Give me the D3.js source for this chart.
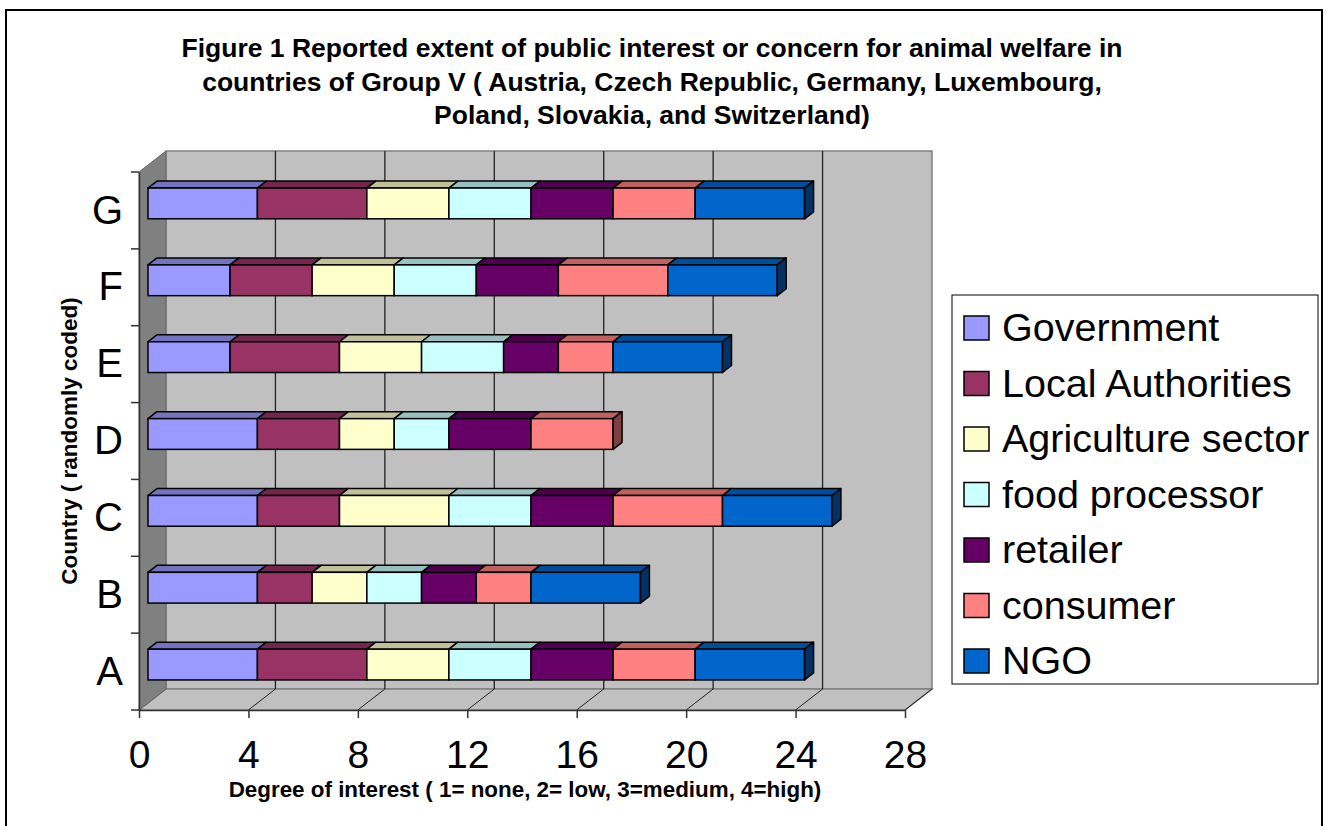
<!DOCTYPE html>
<html>
<head>
<meta charset="utf-8">
<script src="https://cdn.jsdelivr.net/npm/d3@7"></script>
<style>
  body { margin: 0; background: #fff; }
  svg { display: block; font-family: Arial, "Liberation Sans", sans-serif; }
</style>
</head>
<body>
<svg id="chart" width="1329" height="826"></svg>
<script>
// data (A..G, stacked by stakeholder)
const countries = ["A", "B", "C", "D", "E", "F", "G"];
const seriesNames = ["Government", "Local Authorities", "Agriculture sector", "food processor", "retailer", "consumer", "NGO"];
const seriesColors = ["#9999FF", "#993366", "#FFFFCC", "#CCFFFF", "#660066", "#FF8080", "#0066CC"];
const government  = [4, 4, 4, 4, 3, 3, 4];
const localAuth   = [4, 2, 3, 3, 4, 3, 4];
const agriculture = [3, 2, 4, 2, 3, 3, 3];
const foodProc    = [3, 2, 3, 2, 3, 3, 3];
const retailer    = [3, 2, 3, 3, 2, 3, 3];
const consumer    = [3, 2, 4, 3, 2, 4, 3];
const ngo         = [4, 4, 4, 0, 4, 4, 4];
const xTicks = [0, 4, 8, 12, 16, 20, 24, 28];
const titleLines = [
    "Figure 1 Reported extent of public interest or concern for animal welfare in",
    "countries of Group V ( Austria, Czech Republic, Germany, Luxembourg,",
    "Poland, Slovakia, and Switzerland)"
];

document.addEventListener("DOMContentLoaded", function() {
    const svg = d3.select("#chart");
    const allSeries = [government, localAuth, agriculture, foodProc, retailer, consumer, ngo];
    const rows = countries.map((c, i) => {
        const row = { country: c };
        seriesNames.forEach((s, j) => row[s] = allSeries[j][i]);
        return row;
    });
    const stacked = d3.stack().keys(seriesNames)(rows);

    // 3D geometry: front plane plus a depth offset
    const left = 139, right = 905, top = 172, bottom = 710;
    const depthX = 27, depthY = -21;
    const x = d3.scaleLinear().domain([0, 28]).range([left, right]);
    const y = d3.scaleBand().domain(countries.slice().reverse()).range([top, bottom]);

    // outer frame
    svg.append("rect").attr("x", 6).attr("y", 10).attr("width", 1316).attr("height", 830)
        .attr("fill", "none").attr("stroke", "#000").attr("stroke-width", 2);

    // title
    svg.append("g").selectAll("text").data(titleLines).enter().append("text")
        .attr("x", 652).attr("y", (d, i) => 57 + i * 33.5)
        .attr("text-anchor", "middle")
        .style("font-size", "26.5px").style("font-weight", "bold")
        .text(d => d);

    // back wall
    svg.append("rect")
        .attr("x", left + depthX).attr("y", top + depthY)
        .attr("width", right - left).attr("height", bottom - top)
        .attr("fill", "#C0C0C0").attr("stroke", "#808080").attr("stroke-width", 1.5);

    // floor
    svg.append("path")
        .attr("d", `M${left},${bottom}L${right},${bottom}L${right + depthX},${bottom + depthY}L${left + depthX},${bottom + depthY}Z`)
        .attr("fill", "#C0C0C0").attr("stroke", "#808080").attr("stroke-width", 1.5);

    // left wall
    svg.append("path")
        .attr("d", `M${left},${top}L${left + depthX},${top + depthY}L${left + depthX},${bottom + depthY}L${left},${bottom}Z`)
        .attr("fill", "#808080").attr("stroke", "#666").attr("stroke-width", 1);

    // gridlines on back wall and floor
    const grid = svg.append("g");
    grid.selectAll(".gv").data(xTicks.slice(1, -1)).enter().append("line")
        .attr("x1", d => x(d) + depthX).attr("x2", d => x(d) + depthX)
        .attr("y1", top + depthY).attr("y2", bottom + depthY)
        .attr("stroke", "#222").attr("stroke-width", 1.3);
    grid.selectAll(".gf").data(xTicks.slice(1)).enter().append("line")
        .attr("x1", d => x(d)).attr("x2", d => x(d) + depthX)
        .attr("y1", bottom).attr("y2", bottom + depthY)
        .attr("stroke", "#222").attr("stroke-width", 1);

    // x axis
    const xAxis = svg.append("g").attr("transform", `translate(0,${bottom})`)
        .call(d3.axisBottom(x).tickValues(xTicks).tickSize(8).tickSizeOuter(0).tickPadding(22));
    xAxis.select(".domain").attr("stroke", "#333").attr("stroke-width", 1.5);
    xAxis.selectAll(".tick line").attr("stroke", "#333").attr("stroke-width", 1.5);
    xAxis.selectAll(".tick text").style("font-size", "39px").style("font-family", "Arial, 'Liberation Sans', sans-serif").attr("fill", "#000");

    // y axis
    const yAxis = svg.append("g").attr("transform", `translate(${left},0)`)
        .call(d3.axisLeft(y).tickSize(0).tickPadding(16));
    yAxis.select(".domain").attr("stroke", "#333").attr("stroke-width", 1.5);
    yAxis.selectAll(".tick text").style("font-size", "40px").style("font-family", "Arial, 'Liberation Sans', sans-serif")
        .attr("fill", "#000").attr("dy", "0.33em");
    const edges = countries.map(c => y(c)).concat([bottom]);
    svg.append("g").selectAll("line").data(edges).enter().append("line")
        .attr("x1", left - 8).attr("x2", left).attr("y1", d => d).attr("y2", d => d)
        .attr("stroke", "#333").attr("stroke-width", 1.5);

    // bars: front face sits one third into the depth, bar takes one third of the depth
    const fx = depthX / 3, fy = depthY / 3;
    const barH = y.bandwidth() * 0.4;
    const barsG = svg.append("g");
    rows.forEach((row, i) => {
        const y0 = y(row.country) + (y.bandwidth() - barH) / 2 + fy;
        const segs = stacked.map((s, j) => ({ name: s.key, color: seriesColors[j], x0: s[i][0], x1: s[i][1] }))
            .filter(s => s.x1 > s.x0);
        segs.forEach((s, k) => {
            const a = x(s.x0) + fx, b = x(s.x1) + fx;
            const c = d3.color(s.color);
            barsG.append("path")
                .attr("d", `M${a},${y0}L${a + fx},${y0 + fy}L${b + fx},${y0 + fy}L${b},${y0}Z`)
                .attr("fill", c.darker(0.8)).attr("stroke", "#000").attr("stroke-width", 1.5).attr("stroke-linejoin", "round");
            barsG.append("rect")
                .attr("x", a).attr("y", y0).attr("width", b - a).attr("height", barH)
                .attr("fill", s.color).attr("stroke", "#000").attr("stroke-width", 1.5);
            if (k === segs.length - 1) {
                barsG.append("path")
                    .attr("d", `M${b},${y0}L${b + fx},${y0 + fy}L${b + fx},${y0 + fy + barH}L${b},${y0 + barH}Z`)
                    .attr("fill", c.darker(2)).attr("stroke", "#000").attr("stroke-width", 1.5).attr("stroke-linejoin", "round");
            }
        });
    });

    // axis titles
    svg.append("text")
        .attr("x", 525).attr("y", 797).attr("text-anchor", "middle")
        .style("font-size", "22.4px").style("font-weight", "bold")
        .text("Degree of interest ( 1= none, 2= low, 3=medium, 4=high)");
    svg.append("text")
        .attr("transform", "translate(77,441) rotate(-90)").attr("text-anchor", "middle")
        .style("font-size", "22.5px").style("font-weight", "bold")
        .text("Country ( randomly coded)");

    // legend
    const legend = svg.append("g");
    legend.append("rect").attr("x", 952).attr("y", 295).attr("width", 366).attr("height", 389)
        .attr("fill", "#fff").attr("stroke", "#000").attr("stroke-width", 1);
    const item = legend.selectAll(".item").data(seriesNames).enter().append("g")
        .attr("transform", (d, i) => `translate(964,${328 + i * 55.5})`);
    item.append("rect").attr("x", 0).attr("y", -12).attr("width", 25).attr("height", 24)
        .attr("fill", (d, i) => seriesColors[i]).attr("stroke", "#000").attr("stroke-width", 1.5);
    item.append("text").attr("x", 38).attr("y", 13)
        .style("font-size", "39.5px").text(d => d);
});
</script>
</body>
</html>
